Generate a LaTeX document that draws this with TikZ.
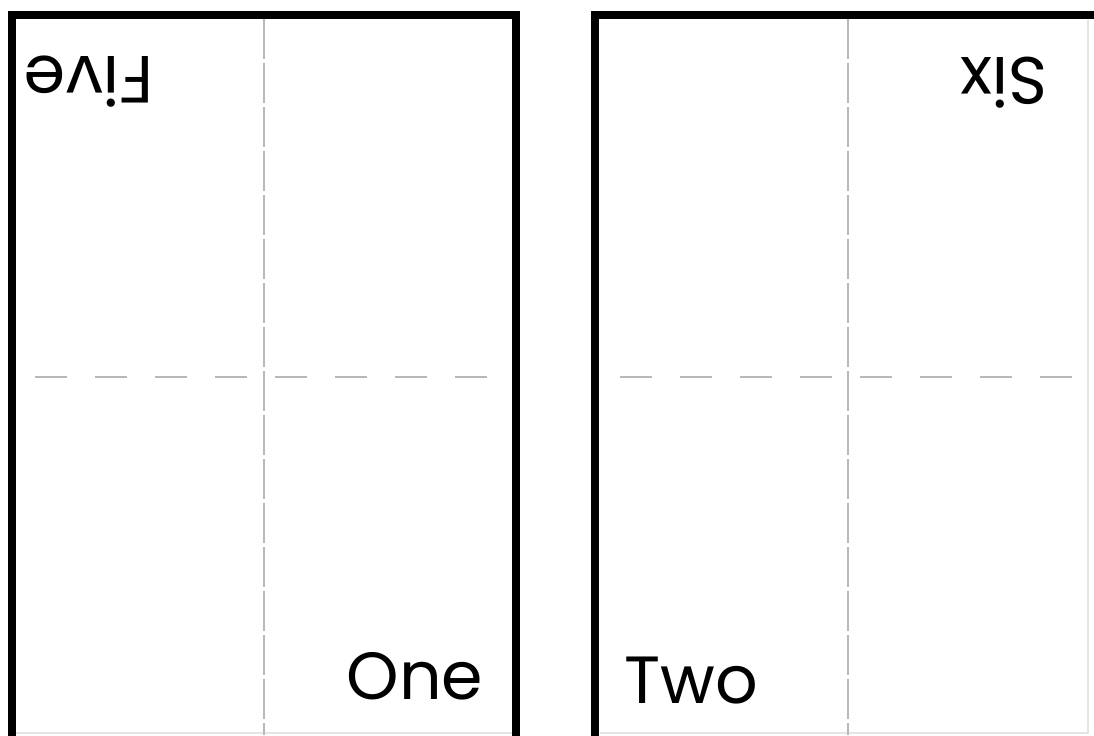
\documentclass[tikz,border=0pt]{standalone}
\usepackage{fontspec}
\setmainfont{Poppins}

\begin{document}
\begin{tikzpicture}[
  x=0.02cm, y=-0.02cm,
  frame/.style={
    draw=black, line width=4pt},
  fold/.style={
    draw=black!28, line width=0.8pt},
  foldv/.style={fold,
    dash pattern=on 0.8cm off 0.08cm},
  foldh/.style={fold,
    dash pattern=on 0.64cm off 0.56cm},
  sheetedge/.style={
    draw=black!10, line width=0.6pt},
  pagetext/.style={
    font=\fontsize{38}{40}\selectfont,
    inner sep=0pt, anchor=base},
  upside/.style={pagetext, rotate=180}
]

\useasboundingbox (0,0) rectangle (1094,735);
\clip (0,0) rectangle (1094,735);

% two sheets, cut by the lower and right edge
\draw[sheetedge] (16,733) -- (512,733);
\draw[sheetedge] (600,733) -- (1088,733) -- (1088,20);
\draw[frame] (12,15) rectangle (516,760);
\draw[frame] (595,15) rectangle (1100,760);

\draw[foldv] (264,19) -- (264,735);
\draw[foldv] (848,19) -- (848,735);
\draw[foldh] (35,377) -- (490,377);
\draw[foldh] (620,377) -- (1075,377);

\node[upside] (five) at (89,56) {Five};
\node[pagetext] (one) at (415,699) {One};
\node[pagetext] (two) at (691,703) {Two};
\node[upside] (six) at (1004,57) {Six};

\end{tikzpicture}
\end{document}
